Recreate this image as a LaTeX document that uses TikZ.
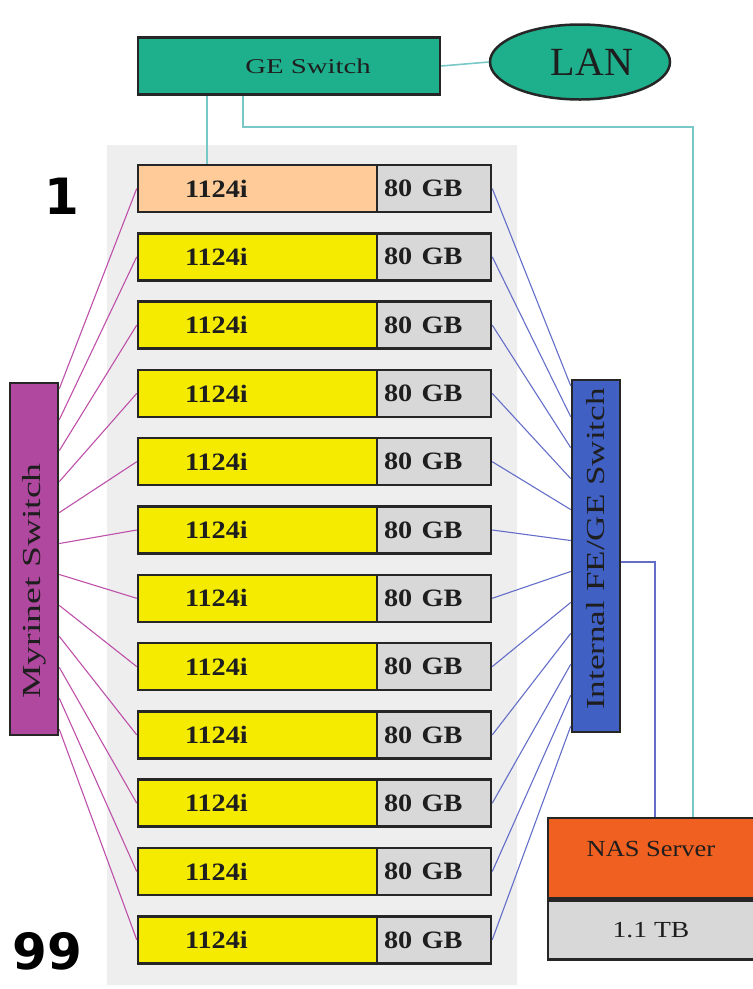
\documentclass[tikz,border=0pt]{standalone}
\usepackage{fontspec}
\setmainfont{Liberation Serif}
\newfontfamily\bigsans{DejaVu Sans}
\usepackage{graphicx}
\usetikzlibrary{calc,shapes.geometric}
\definecolor{gegreen}{RGB}{30,176,140}
\definecolor{tealline}{RGB}{120,200,200}
\definecolor{myrfill}{RGB}{176,72,160}
\definecolor{myrline}{RGB}{190,80,170}
\definecolor{iswfill}{RGB}{64,96,196}
\definecolor{iswline}{RGB}{100,110,200}
\definecolor{nasfill}{RGB}{240,96,32}
\definecolor{peach}{RGB}{255,204,153}
\definecolor{cpuyellow}{RGB}{245,235,0}
\definecolor{diskgray}{RGB}{216,216,216}
\definecolor{panelgray}{RGB}{238,238,238}
\definecolor{txtdark}{RGB}{30,30,30}
\newcommand{\cpulabel}[1]{\scalebox{1.13}[1]{#1}}
\begin{document}
\begin{tikzpicture}[x=1pt,y=-1pt,
  box/.style={draw=black!85, line width=2.5pt, inner sep=0pt, text=txtdark},
  cpubox/.style={box, fill=cpuyellow, minimum width=240pt, minimum height=47pt,
     text width=146pt, inner xsep=47pt, align=left, font=\bfseries\fontsize{25}{28}\selectfont},
  diskbox/.style={box, fill=diskgray, minimum width=112pt, minimum height=47pt,
     text width=100pt, inner xsep=7pt, align=left, font=\bfseries\fontsize{25}{28}\selectfont},
  switchv/.style={box, minimum width=48pt, minimum height=352pt, font=\fontsize{26}{30}\selectfont},
  tealconn/.style={draw=tealline, line width=1.6pt},
  myrconn/.style={draw=myrline, line width=1.1pt},
  iswconn/.style={draw=iswline, line width=1.1pt},
  bignum/.style={font=\bigsans\bfseries\fontsize{50}{50}\selectfont, inner sep=0pt}
]
\useasboundingbox (0,0) rectangle (753,989);
\fill[panelgray] (107,145) rectangle (517,985);

% top
\node[box, fill=gegreen, minimum width=302pt, minimum height=57pt,
      font=\fontsize{21}{24}\selectfont] (ge) at (289,66) {\hspace*{38pt}\scalebox{1.37}[1]{GE Switch}};
\node[box, ellipse, fill=gegreen, minimum width=180pt, minimum height=75pt,
      font=\fontsize{40}{44}\selectfont] (lan) at (580,62) {\hspace*{24pt}LAN};

% computers
\node[cpubox, fill=peach] (n0) at (258,188.5) {\cpulabel{1124i}};
\node[diskbox] (d0) at (434,188.5) {\cpulabel{80 GB}};
\foreach \i in {1,...,11} {
  \pgfmathsetmacro\cy{188.5+68.3*\i}
  \node[cpubox] (n\i) at (258,\cy) {\cpulabel{1124i}};
  \node[diskbox] (d\i) at (434,\cy) {\cpulabel{80 GB}};
}

% switches
\node[switchv, fill=myrfill] (myr) at (34,559) {\rotatebox{90}{\scalebox{1.45}[1]{Myrinet Switch}\hspace*{44pt}}};
\node[switchv, fill=iswfill] (isw) at (596,556) {\rotatebox{90}{\hspace*{14pt}\scalebox{1.35}[1]{Internal FE/GE Switch}}};

% NAS
\node[box, fill=nasfill, minimum width=206pt, minimum height=80pt, text depth=18pt,
      font=\fontsize{23}{26}\selectfont] (nas) at (651,858) {\scalebox{1.15}[1]{NAS Server}};
\node[box, fill=diskgray, minimum width=206pt, minimum height=59pt, anchor=north,
      font=\fontsize{23}{26}\selectfont] (tb) at (nas.south) {\scalebox{1.2}[1]{1.1 TB}};

% labels
\node[bignum] (one) at (62,196) {1};
\node[bignum] (nn) at (47,951) {99};

% connectors
\foreach \i in {0,...,11} {
  \pgfmathsetmacro\f{0.02+0.96*\i/11}
  \draw[myrconn] (n\i.west) -- ($(myr.north east)!\f!(myr.south east)$);
  \draw[iswconn] (d\i.east) -- ($(isw.north west)!\f!(isw.south west)$);
}
\coordinate (b1) at (655,562);
\draw[iswconn] (isw.east |- b1) -- (b1) -- (b1 |- nas.north);

\draw[tealconn] (ge.east) -- (lan.west);
\coordinate (t0) at (207,130);
\draw[tealconn] (t0 |- ge.south) -- (t0 |- n0.north);
\coordinate (t1) at (243,127);
\coordinate (t2) at (693,127);
\draw[tealconn] (t1 |- ge.south) -- (t1) -- (t2) -- (t2 |- nas.north);
\end{tikzpicture}
\end{document}
